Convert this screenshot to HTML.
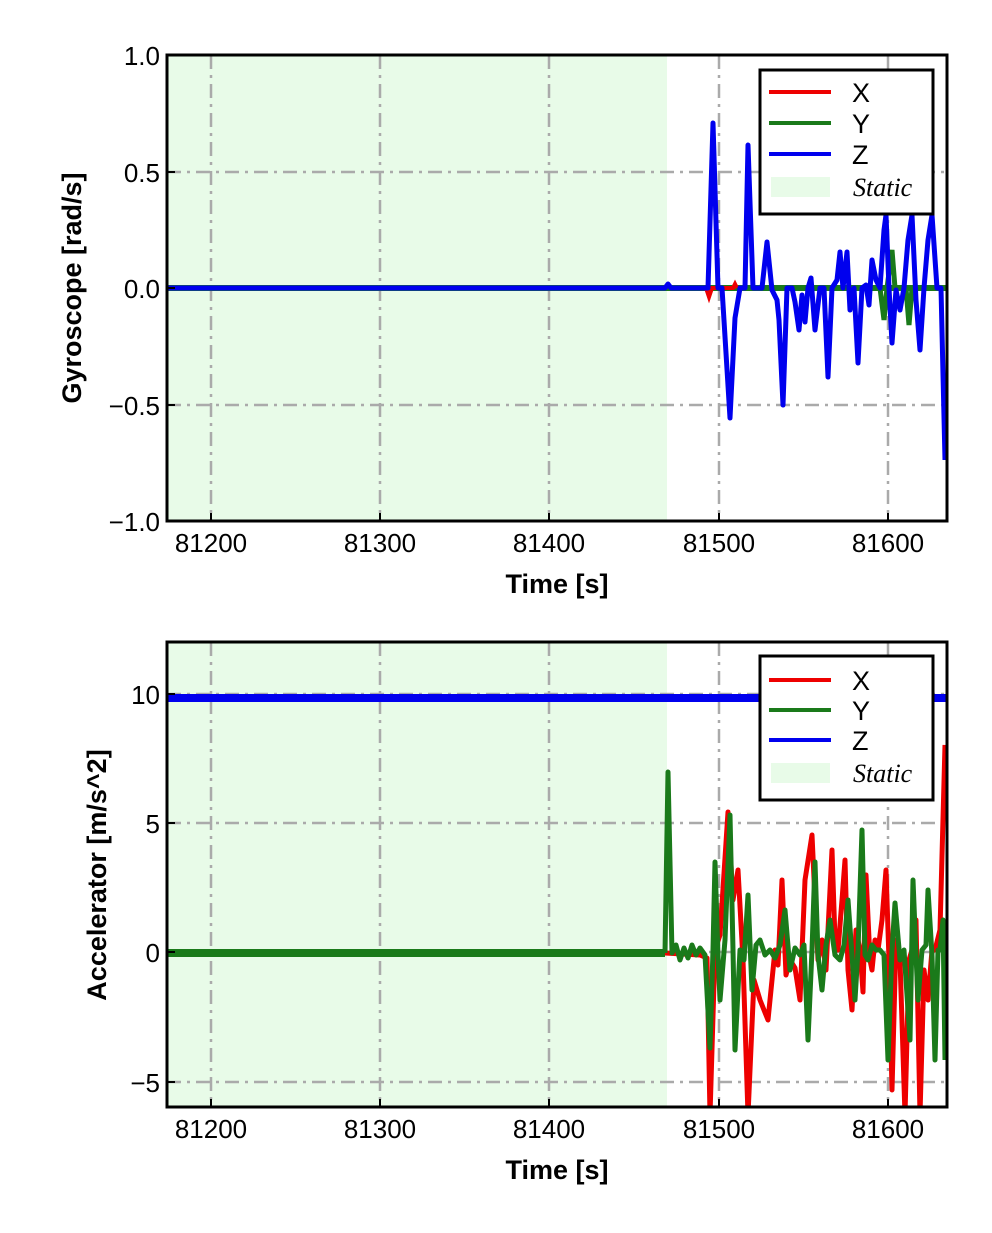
<!DOCTYPE html>
<html><head><meta charset="utf-8"><style>
body{margin:0;background:#fff}
text{font-family:"Liberation Sans",sans-serif;fill:#000}
</style></head><body>
<svg width="992" height="1228" xmlns="http://www.w3.org/2000/svg">
<!-- TOP -->
<rect x="167" y="55" width="500" height="466" fill="#e8fbe8"/>
<g stroke="#aaa" stroke-width="2.5" stroke-dasharray="14,6,3,6" fill="none">
<line x1="211" y1="55" x2="211" y2="521"/><line x1="380" y1="55" x2="380" y2="521"/><line x1="549" y1="55" x2="549" y2="521"/><line x1="719" y1="55" x2="719" y2="521"/><line x1="888" y1="55" x2="888" y2="521"/>
<line x1="167" y1="172" x2="947" y2="172"/><line x1="167" y1="288" x2="947" y2="288"/><line x1="167" y1="405" x2="947" y2="405"/>
</g>
<line x1="167" y1="288" x2="947" y2="288" stroke="#1a7a1a" stroke-width="6"/>
<polyline fill="none" stroke="#e00" stroke-width="4" points="706,288 709,297 712,288 733,288 735,284 737,288"/>
<polyline fill="none" stroke="#1a7a1a" stroke-width="5" points="880,288 884,320 887,288 892,250 895,288 906,288 909,325 912,288"/>
<polyline fill="none" stroke="#0000ee" stroke-width="5" stroke-linejoin="round" points="167,288 665,288 668,284 671,288 708,288 713,123 718,288 722,288 730,418 735,318 740,288 745,288 748,145 753,288 762,288 767,242 772,290 777,300 779,320 783,405 787,288 792,288 795,302 799,330 802,295 805,322 808,288 811,278 815,330 820,288 824,288 828,377 832,288 837,280 840,252 843,288 847,252 850,310 854,288 858,363 862,288 866,285 869,305 872,260 876,280 880,288 884,230 886,215 889,288 892,343 896,290 900,310 904,288 908,240 912,215 916,300 920,350 924,288 928,240 932,215 937,288 941,288 945,460"/>
<g stroke="#000" stroke-width="2"><line x1="211" y1="521" x2="211" y2="513"/><line x1="380" y1="521" x2="380" y2="513"/><line x1="549" y1="521" x2="549" y2="513"/><line x1="719" y1="521" x2="719" y2="513"/><line x1="888" y1="521" x2="888" y2="513"/>
<line x1="167" y1="172" x2="175" y2="172"/><line x1="167" y1="288" x2="175" y2="288"/><line x1="167" y1="405" x2="175" y2="405"/></g>
<rect x="167" y="55" width="780" height="466" fill="none" stroke="#000" stroke-width="3"/>
<g font-size="26" text-anchor="end"><text x="160" y="65">1.0</text><text x="160" y="182">0.5</text><text x="160" y="298">0.0</text><text x="160" y="415">−0.5</text><text x="160" y="531">−1.0</text></g>
<g font-size="26" text-anchor="middle"><text x="211" y="552">81200</text><text x="380" y="552">81300</text><text x="549" y="552">81400</text><text x="719" y="552">81500</text><text x="888" y="552">81600</text></g>
<text x="557" y="593" font-size="27" font-weight="bold" text-anchor="middle">Time [s]</text>
<text transform="translate(81,288) rotate(-90)" font-size="27" font-weight="bold" text-anchor="middle">Gyroscope [rad/s]</text>
<rect x="760" y="70" width="173" height="144" fill="#fff" stroke="#000" stroke-width="3"/>
<line x1="769" y1="92" x2="831" y2="92" stroke="#e00" stroke-width="4"/><line x1="769" y1="123" x2="831" y2="123" stroke="#1a7a1a" stroke-width="4"/><line x1="769" y1="154" x2="831" y2="154" stroke="#0000ee" stroke-width="4"/>
<rect x="771" y="177" width="59" height="20" fill="#e8fbe8"/>
<g font-size="27"><text x="852" y="102">X</text><text x="852" y="133">Y</text><text x="852" y="164">Z</text></g>
<text x="853" y="196" font-size="26" font-style="italic" style="font-family:'Liberation Serif',serif">Static</text>

<!-- BOTTOM -->
<rect x="167" y="642" width="500" height="465" fill="#e8fbe8"/>
<g stroke="#aaa" stroke-width="2.5" stroke-dasharray="14,6,3,6" fill="none">
<line x1="211" y1="642" x2="211" y2="1107"/><line x1="380" y1="642" x2="380" y2="1107"/><line x1="549" y1="642" x2="549" y2="1107"/><line x1="719" y1="642" x2="719" y2="1107"/><line x1="888" y1="642" x2="888" y2="1107"/>
<line x1="167" y1="694" x2="947" y2="694"/><line x1="167" y1="823" x2="947" y2="823"/><line x1="167" y1="952" x2="947" y2="952"/><line x1="167" y1="1082" x2="947" y2="1082"/>
</g>
<line x1="167" y1="698" x2="947" y2="698" stroke="#0000ee" stroke-width="8"/>
<line x1="167" y1="953" x2="665" y2="953" stroke="#1a7a1a" stroke-width="8"/>
<clipPath id="c"><rect x="167" y="642" width="780" height="465"/></clipPath>
<g clip-path="url(#c)" fill="none" stroke-width="5" stroke-linejoin="round">
<polyline stroke="#e00" points="665,953 700,955 707,958 710,1115 715,950 720,935 728,812 733,900 738,870 743,960 748,1115 754,980 760,1000 768,1020 775,950 778,965 782,880 786,975 790,960 795,968 800,1000 805,880 812,835 815,900 818,960 822,940 826,970 832,850 835,940 838,950 842,900 845,860 848,970 852,1010 856,930 860,950 863,992 866,875 870,960 872,970 875,940 878,950 882,920 886,870 889,960 892,1090 896,940 900,960 905,1115 909,960 912,950 916,920 920,1115 924,970 928,1000 932,950 935,950 940,930 945,745"/>
<polyline stroke="#1a7a1a" points="665,953 668,772 672,953 676,945 680,960 684,948 688,958 692,945 696,955 700,948 705,955 710,1048 713,950 715,862 718,955 720,1000 725,940 730,815 733,950 735,1050 740,950 744,960 748,895 752,990 756,945 760,940 765,955 770,950 775,958 780,945 785,910 790,970 795,948 800,955 804,945 808,1040 812,950 815,862 818,955 822,990 826,945 830,920 835,955 840,960 844,945 848,900 852,955 855,1000 858,950 862,830 865,955 868,960 872,945 876,950 880,950 884,955 888,1060 892,950 895,903 900,960 904,950 910,1040 913,880 916,955 918,1000 922,950 926,945 928,890 932,955 935,1060 938,950 940,950 943,920 945,1060"/>
</g>
<g stroke="#000" stroke-width="2"><line x1="211" y1="1107" x2="211" y2="1099"/><line x1="380" y1="1107" x2="380" y2="1099"/><line x1="549" y1="1107" x2="549" y2="1099"/><line x1="719" y1="1107" x2="719" y2="1099"/><line x1="888" y1="1107" x2="888" y2="1099"/>
<line x1="167" y1="694" x2="175" y2="694"/><line x1="167" y1="823" x2="175" y2="823"/><line x1="167" y1="952" x2="175" y2="952"/><line x1="167" y1="1082" x2="175" y2="1082"/></g>
<rect x="167" y="642" width="780" height="465" fill="none" stroke="#000" stroke-width="3"/>
<g font-size="26" text-anchor="end"><text x="160" y="704">10</text><text x="160" y="833">5</text><text x="160" y="962">0</text><text x="160" y="1092">−5</text></g>
<g font-size="26" text-anchor="middle"><text x="211" y="1138">81200</text><text x="380" y="1138">81300</text><text x="549" y="1138">81400</text><text x="719" y="1138">81500</text><text x="888" y="1138">81600</text></g>
<text x="557" y="1179" font-size="27" font-weight="bold" text-anchor="middle">Time [s]</text>
<text transform="translate(106,875) rotate(-90)" font-size="27" font-weight="bold" text-anchor="middle">Accelerator [m/s^2]</text>
<rect x="760" y="656" width="173" height="144" fill="#fff" stroke="#000" stroke-width="3"/>
<line x1="769" y1="680" x2="831" y2="680" stroke="#e00" stroke-width="4"/><line x1="769" y1="710" x2="831" y2="710" stroke="#1a7a1a" stroke-width="4"/><line x1="769" y1="740" x2="831" y2="740" stroke="#0000ee" stroke-width="4"/>
<rect x="771" y="763" width="59" height="20" fill="#e8fbe8"/>
<g font-size="27"><text x="852" y="690">X</text><text x="852" y="720">Y</text><text x="852" y="750">Z</text></g>
<text x="853" y="782" font-size="26" font-style="italic" style="font-family:'Liberation Serif',serif">Static</text>
</svg>
</body></html>
